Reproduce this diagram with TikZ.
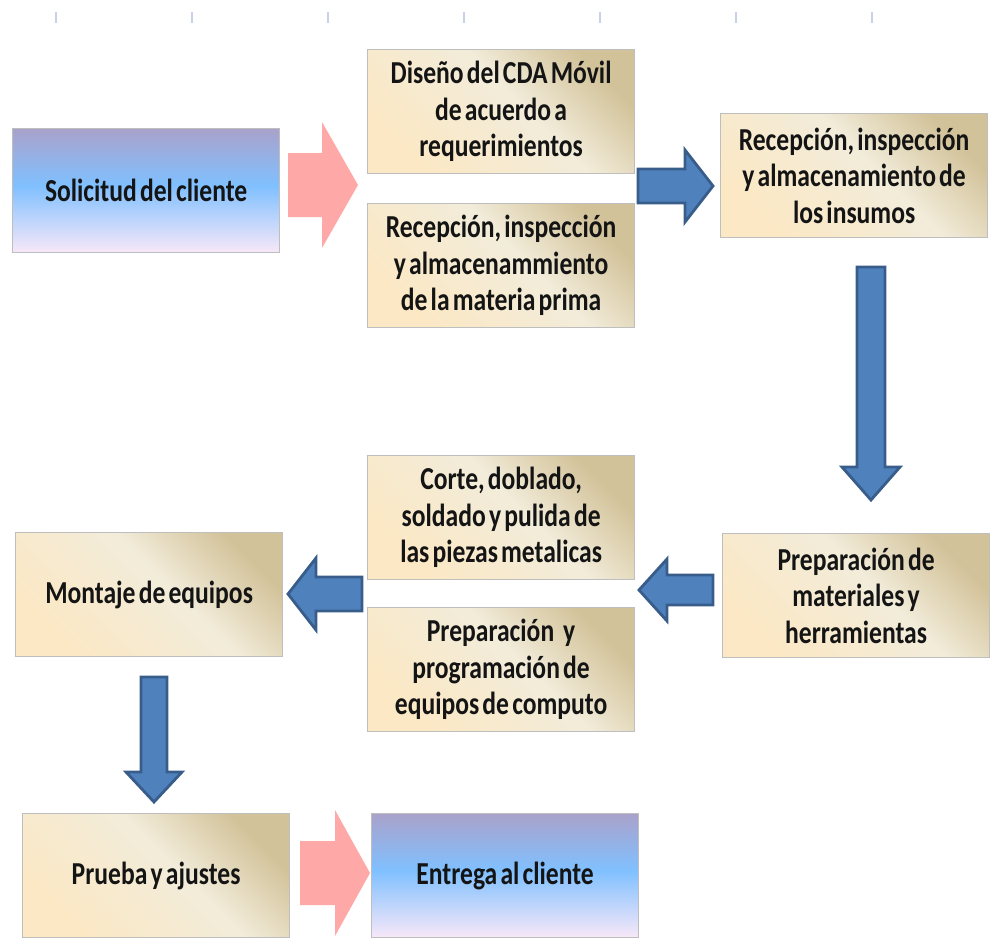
\documentclass[tikz,border=0pt]{standalone}
\usepackage{fontspec}
\newfontfamily\boxfont{Carlito}[FakeStretch=0.8,WordSpace=0.55]
\usetikzlibrary{calc}

\definecolor{boxline}{HTML}{BEBEBE}
\definecolor{textdark}{HTML}{141414}
\definecolor{creamlow}{HTML}{FCE8C4}
\definecolor{creammid}{HTML}{F2ECDA}
\definecolor{tantop}{HTML}{D2C299}
\definecolor{skylow}{HTML}{F8E8F8}
\definecolor{skymid}{HTML}{80C0FF}
\definecolor{skytop}{HTML}{A9A2CB}
\definecolor{arrowblue}{HTML}{4F81BD}
\definecolor{arrowedge}{HTML}{385D8A}
\definecolor{arrowpink}{HTML}{FFA8A8}
\definecolor{tickcol}{HTML}{C8D0EA}

\pgfdeclarehorizontalshading{beigebox}{100bp}{color(0bp)=(creamlow); color(25bp)=(creamlow); color(55bp)=(creammid); color(75bp)=(tantop); color(100bp)=(tantop)}
\pgfdeclareverticalshading{skybox}{100bp}{color(0bp)=(skylow); color(25bp)=(skylow); color(52bp)=(skymid); color(75bp)=(skytop); color(100bp)=(skytop)}

% block arrow: style, from, to, shaft half width, head half width, head length
\newcommand\blockarrow[6]{%
  \coordinate (ba-m) at ($(#3)!#6!(#2)$);
  \filldraw[#1] ($(#2)!#4!90:(#3)$) -- ($(ba-m)!#4!90:(#3)$) -- ($(ba-m)!#5!90:(#3)$) -- (#3)
    -- ($(ba-m)!#5!-90:(#3)$) -- ($(ba-m)!#4!-90:(#3)$) -- ($(#2)!#4!-90:(#3)$) -- cycle;
}

\begin{document}
\begin{tikzpicture}[x=1pt,y=-1pt,
  box/.style={draw=boxline, line width=1.2pt, anchor=north west, minimum width=267pt,
    minimum height=124pt, align=center, inner sep=0pt, text=textdark,
    font=\boxfont\bfseries\fontsize{32}{36.5}\selectfont},
  beige/.style={box, shade, shading=beigebox, shading angle=45},
  sky/.style={box, shade, shading=skybox},
  bluearrow/.style={fill=arrowblue, draw=arrowedge, line width=2.8pt},
  pinkarrow/.style={fill=arrowpink, draw=none},
  tick/.style={draw=tickcol, line width=1.2pt}]
\useasboundingbox (0,0) rectangle (1006,937);

\foreach \tx in {56,192,...,872}
  \draw[tick] (\tx,12) -- (\tx,23);

% first row
\node[sky] (sol) at (12,128) {Solicitud del cliente};
\node[beige] (dis) at (367,49) {Diseño del CDA Móvil\\de acuerdo a\\requerimientos};
\node[beige] (mat) at (367,203) {Recepción, inspección\\y almacenammiento\\de la materia prima};
\node[beige] (ins) at (720,113) {Recepción, inspección\\y almacenamiento de\\los insumos};

% second row
\node[beige] (pre) at (722,533) {Preparación de\\materiales y\\herramientas};
\node[beige] (cor) at (367,455) {Corte, doblado,\\soldado y pulida de\\las piezas metalicas};
\node[beige] (com) at (367,607) {Preparación\hspace{0.28em}y\\programación de\\equipos de computo};
\node[beige] (mon) at (15,532) {Montaje de equipos};

% last row
\node[beige] (pru) at (22,813) {Prueba y ajustes};
\node[sky] (ent) at (371,813) {Entrega al cliente};

% arrow ends
\coordinate (a1s) at (288,185);
\coordinate (a1t) at (358,185);
\coordinate (a2s) at (638,186);
\coordinate (a2t) at (713,186);
\coordinate (a3s) at (871,267);
\coordinate (a3t) at (871,500);
\coordinate (a4s) at (713,590);
\coordinate (a4t) at (639,590);
\coordinate (a5s) at (362,594);
\coordinate (a5t) at (288,594);
\coordinate (a6s) at (154,677);
\coordinate (a6t) at (154,802);
\coordinate (a7s) at (300,873);
\coordinate (a7t) at (370,873);

\blockarrow{pinkarrow}{a1s}{a1t}{32pt}{63pt}{36pt}
\blockarrow{bluearrow}{a2s}{a2t}{17pt}{36pt}{28pt}
\blockarrow{bluearrow}{a3s}{a3t}{14pt}{29pt}{33pt}
\blockarrow{bluearrow}{a4s}{a4t}{15pt}{31pt}{28pt}
\blockarrow{bluearrow}{a5s}{a5t}{17pt}{36pt}{28pt}
\blockarrow{bluearrow}{a6s}{a6t}{13pt}{28pt}{30pt}
\blockarrow{pinkarrow}{a7s}{a7t}{32pt}{63pt}{35pt}
\end{tikzpicture}
\end{document}
